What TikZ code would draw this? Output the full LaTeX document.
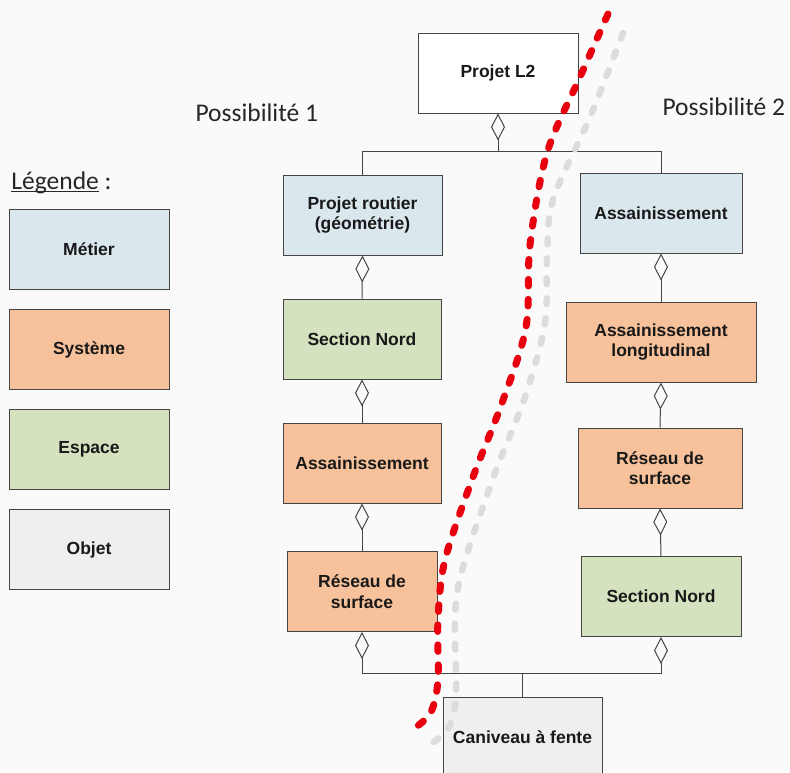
\documentclass[tikz,border=0pt]{standalone}
\usepackage{fontspec}
\setmainfont{Carlito}
\newfontfamily\boxfont{Liberation Sans}
\usetikzlibrary{arrows.meta}

\definecolor{fond}{HTML}{FAFAFA}
\definecolor{metier}{HTML}{DAE8EE}
\definecolor{systeme}{HTML}{F7C29B}
\definecolor{espace}{HTML}{D5E2BF}
\definecolor{objet}{HTML}{EFEFEF}
\definecolor{trait}{HTML}{454545}
\definecolor{coupe}{HTML}{E8000E}
\definecolor{coupeb}{HTML}{DCDCDC}

\begin{document}
\begin{tikzpicture}[x=1pt, y=-1pt, line width=1pt,
	bloc/.style={draw=trait, inner sep=0pt, minimum height=80pt, align=center,
		text=black!90, font=\boxfont\bfseries\fontsize{17.5}{20.5}\selectfont},
	agr/.style={draw=trait, {Diamond[open, length=27pt, width=14pt]}-},
	lien/.style={draw=trait},
	titre/.style={inner sep=0pt, anchor=base west, text=black!85, font=\fontsize{25.5}{30}\selectfont},
	cutred/.style={draw=coupe, line width=7pt, line cap=round, dash pattern=on 6.5pt off 13.5pt},
	cutgray/.style={draw=coupeb, line width=6.5pt, line cap=round, dash pattern=on 6pt off 14pt}]

\fill[fond] (0,0) rectangle (790,772);
\useasboundingbox (0,0) rectangle (790,772);

\node[titre] (leg) at (11,189) {\setbox0\hbox{Légende}\rlap{\rule[-3pt]{\wd0}{1.4pt}}\box0\ :};
\node[titre] (poss1) at (195,121) {Possibilité 1};
\node[titre] (poss2) at (662,115) {Possibilité 2};

\foreach \nom/\coul [count=\i] in {Métier/metier, Système/systeme, Espace/espace, Objet/objet}{
	\node[bloc, fill=\coul, minimum width=160pt] (leg\i) at (89,149.5+100*\i) {\nom};
}

\node[bloc, fill=white, minimum width=160pt] (l2) at (498,73) {Projet L2};

\node[bloc, fill=metier, minimum width=159pt] (routier) at (362.5,215) {Projet routier\\(géométrie)};
\node[bloc, fill=espace, minimum width=158pt] (nordL) at (362,339) {Section Nord};
\node[bloc, fill=systeme, minimum width=158pt] (assL) at (362,463) {Assainissement};
\node[bloc, fill=systeme, minimum width=150pt] (reseauL) at (362,591.5) {Réseau de\\surface};

\node[bloc, fill=metier, minimum width=162pt] (assR) at (661,213) {Assainissement};
\node[bloc, fill=systeme, minimum width=190pt] (longR) at (661,342) {Assainissement\\longitudinal};
\node[bloc, fill=systeme, minimum width=164pt] (reseauR) at (660,468) {Réseau de\\surface};
\node[bloc, fill=espace, minimum width=160pt] (nordR) at (661,596.5) {Section Nord};

\node[bloc, fill=objet, minimum width=159pt] (caniveau) at (522.5,737) {Caniveau à fente};

\coordinate (haut) at (498,151);
\coordinate (bas) at (522.5,673);

\draw[agr] (l2.south) -- (haut) -| (routier.north);
\draw[lien] (haut) -| (assR.north);
\draw[agr] (routier.south) -- (nordL.north);
\draw[agr] (nordL.south) -- (assL.north);
\draw[agr] (assL.south) -- (reseauL.north);
\draw[agr] (assR.south) -- (longR.north);
\draw[agr] (longR.south) -- (reseauR.north);
\draw[agr] (reseauR.south) -- (nordR.north);
\draw[agr] (reseauL.south) |- (bas) -- (caniveau.north);
\draw[agr] (nordR.south) |- (bas);

\draw[cutgray] plot[smooth, tension=0.55] coordinates {(623,33) (590,117) (553,200) (547,260) (545,323) (525,397) (495,473) (463,567) (455,617) (456,693) (449,727) (432,743)};
\draw[cutred] plot[smooth, tension=0.55] coordinates {(608,14) (580,77) (547,153) (530,245) (526,327) (502,403) (473,477) (445,560) (438,620) (438,680) (431,712) (416,727)};

\end{tikzpicture}
\end{document}
